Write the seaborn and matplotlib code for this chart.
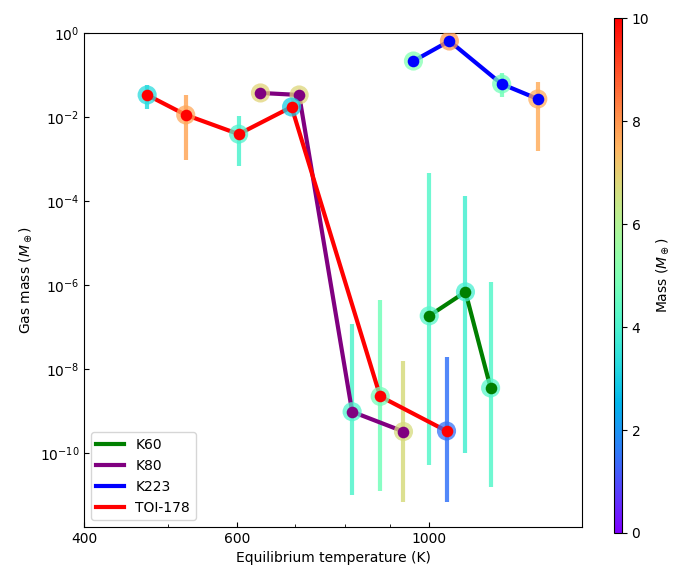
import numpy as np
import pandas as pd
import matplotlib
matplotlib.use("Agg")
import matplotlib.pyplot as plt
import seaborn as sns
from matplotlib.colors import Normalize
from matplotlib.cm import ScalarMappable
from matplotlib.ticker import FixedLocator, NullFormatter, NullLocator, FuncFormatter

# Planetary systems and their line colours
systems = ["K60", "K80", "K223", "TOI-178"]
line_colors = ["green", "purple", "blue", "red"]

# Equilibrium temperature (K), gas mass (M_earth), planet mass (M_earth),
# and gas-mass uncertainty range (lower, upper) per system
k60_teq = [1000, 1101, 1177]
k60_gas = [1.83e-7, 6.8e-7, 3.5e-9]
k60_mass = [4.2, 3.9, 4.2]
k60_lo = [5.2e-11, 1.0e-10, 1.5e-11]
k60_hi = [4.6e-4, 1.3e-4, 1.2e-6]

k80_teq = [639, 708, 815, 934]
k80_gas = [0.0373, 0.0334, 9.5e-10, 3.2e-10]
k80_mass = [6.9, 6.8, 4.1, 6.7]
k80_lo = [np.nan, np.nan, 1.0e-11, 6.8e-12]
k80_hi = [np.nan, np.nan, 1.2e-7, 1.5e-8]

k223_teq = [959, 1055, 1212, 1334]
k223_gas = [0.215, 0.645, 0.061, 0.0268]
k223_mass = [5.1, 7.9, 4.8, 7.6]
k223_lo = [np.nan, np.nan, 0.030, 1.55e-3]
k223_hi = [np.nan, np.nan, 0.112, 0.068]

toi_teq = [473, 524, 603, 694, 878, 1047]
toi_gas = [0.0334, 0.0112, 0.0039, 0.0173, 2.2e-9, 3.3e-10]
toi_mass = [3.3, 7.7, 4.0, 3.0, 4.8, 1.5]
toi_lo = [0.0155, 9.5e-4, 6.8e-4, np.nan, 1.2e-11, 6.8e-12]
toi_hi = [0.058, 0.0334, 0.0106, np.nan, 4.4e-7, 1.9e-8]

series = {
    "K60": (k60_teq, k60_gas, k60_mass, k60_lo, k60_hi),
    "K80": (k80_teq, k80_gas, k80_mass, k80_lo, k80_hi),
    "K223": (k223_teq, k223_gas, k223_mass, k223_lo, k223_hi),
    "TOI-178": (toi_teq, toi_gas, toi_mass, toi_lo, toi_hi),
}

frames = []
for name, (teq, gas, mass, lo, hi) in series.items():
    frames.append(pd.DataFrame({"system": name, "teq": teq, "gas": gas,
                                "mass": mass, "lo": lo, "hi": hi}))
df = pd.concat(frames, ignore_index=True)

cmap = plt.get_cmap("rainbow")
norm = Normalize(vmin=0, vmax=10)

fig = plt.figure(figsize=(6.79, 5.67), dpi=100)
ax = fig.add_axes([0.1237, 0.0705, 0.7334, 0.8713])
cax = fig.add_axes([0.904, 0.06, 0.0118, 0.908])

ax.set_xscale("log")
ax.set_yscale("log")

for i, (name, color) in enumerate(zip(systems, line_colors)):
    sub = df[df["system"] == name]
    base = 2 + 4 * i
    bars = sub.dropna(subset=["lo", "hi"])
    ax.vlines(bars["teq"], bars["lo"], bars["hi"],
              colors=cmap(norm(bars["mass"].values)), alpha=0.85,
              linewidth=3, zorder=1)
    sns.lineplot(data=sub, x="teq", y="gas", color=color, linewidth=3,
                 sort=False, estimator=None, label=name, ax=ax, zorder=base)
    sns.scatterplot(data=sub, x="teq", y="gas", hue="mass", palette="rainbow",
                    hue_norm=(0, 10), s=190, alpha=0.75, linewidth=0,
                    legend=False, ax=ax, zorder=base + 1)
    sns.scatterplot(data=sub, x="teq", y="gas", color=color, s=70,
                    linewidth=0, legend=False, ax=ax, zorder=base + 2)

ax.set_xlim(400, 1500)
ax.set_ylim(1.7e-12, 1)

ax.xaxis.set_major_locator(FixedLocator([400, 600, 1000]))
ax.xaxis.set_major_formatter(FuncFormatter(lambda v, p: f"{v:g}"))
ax.xaxis.set_minor_locator(FixedLocator([500, 700, 800, 900]))
ax.xaxis.set_minor_formatter(NullFormatter())
ax.yaxis.set_major_locator(FixedLocator([10.0 ** k for k in range(0, -11, -2)]))
ax.yaxis.set_minor_locator(NullLocator())
ax.tick_params(which="both", direction="in")

ax.set_xlabel("Equilibrium temperature (K)")
ax.set_ylabel(r"Gas mass ($M_\oplus$)")

leg = ax.legend(loc="lower left")
for line in leg.get_lines():
    line.set_linewidth(3)

cbar = fig.colorbar(ScalarMappable(norm=norm, cmap=cmap), cax=cax)
cbar.set_label(r"Mass ($M_\oplus$)")

fig.savefig("out.png", dpi=100)
